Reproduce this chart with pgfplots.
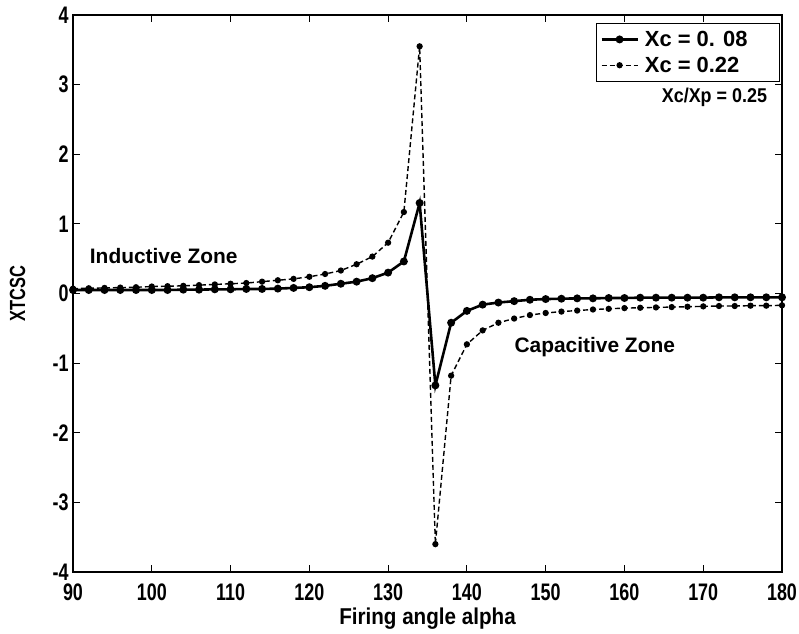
\documentclass[border=0pt]{standalone}
\usepackage{fontspec}
\setmainfont{Liberation Sans}
\newfontfamily\cond[FakeStretch=0.75]{Liberation Sans}
\newfontfamily\lab[FakeStretch=0.9]{Liberation Sans}
\usepackage{pgfplots}
\pgfplotsset{compat=1.18}
\usetikzlibrary{calc}

% Xc = 0.08
\pgfplotstableread{
a y
90 0.05
92 0.05
94 0.05
96 0.05
98 0.05
100 0.05
102 0.05
104 0.055
106 0.055
108 0.06
110 0.06
112 0.065
114 0.065
116 0.07
118 0.08
120 0.09
122 0.11
124 0.14
126 0.17
128 0.22
130 0.30
132 0.46
134 1.30
136 -1.32
138 -0.42
140 -0.25
142 -0.16
144 -0.13
146 -0.11
148 -0.09
150 -0.08
152 -0.075
154 -0.07
156 -0.07
158 -0.065
160 -0.065
162 -0.06
164 -0.06
166 -0.06
168 -0.06
170 -0.06
172 -0.055
174 -0.055
176 -0.055
178 -0.055
180 -0.055
}\xcA

% Xc = 0.22
\pgfplotstableread{
a y
90 0.07
92 0.075
94 0.08
96 0.085
98 0.09
100 0.10
102 0.105
104 0.11
106 0.12
108 0.13
110 0.14
112 0.15
114 0.17
116 0.19
118 0.21
120 0.24
122 0.28
124 0.33
126 0.42
128 0.53
130 0.73
132 1.17
134 3.55
136 -3.60
138 -1.18
140 -0.73
142 -0.53
144 -0.42
146 -0.36
148 -0.31
150 -0.28
152 -0.26
154 -0.245
156 -0.23
158 -0.22
160 -0.21
162 -0.205
164 -0.20
166 -0.195
168 -0.19
170 -0.185
172 -0.18
174 -0.18
176 -0.175
178 -0.175
180 -0.17
}\xcB

\begin{document}
\begin{tikzpicture}[x=1bp,y=1bp]
\begin{axis}[
    name=ax,
    scale only axis,
    width=709bp, height=557bp,
    xmin=90, xmax=180, ymin=-4, ymax=4,
    xtick={90,100,...,180},
    ytick={-4,-3,...,4},
    tick align=inside,
    major tick length=7bp,
    axis line style={line width=1.3bp},
    every tick/.style={line width=1.1bp, black},
    tick label style={font=\cond\bfseries\fontsize{24}{24}\selectfont},
    /pgf/number format/assume math mode=true,
    xticklabel style={yshift=-8bp},
    yticklabel style={xshift=-1bp},
    xlabel={\lab\bfseries\fontsize{23}{23}\selectfont Firing angle alpha},
    ylabel={\cond\bfseries\fontsize{22}{22}\selectfont XTCSC},
    xlabel style={at={(axis description cs:0.5,-0.083)}, anchor=center},
    ylabel style={at={(axis description cs:-0.078,0.5)}, anchor=center},
    clip=false,
    legend style={at={(1,1)}, anchor=north east, xshift=-2bp, yshift=-8bp,
        draw=black, line width=1.1bp, inner xsep=4bp, inner ysep=3bp,
        font=\bfseries\fontsize{22}{24}\selectfont,
        nodes={inner ysep=4.5bp, inner xsep=6bp},
        legend cell align=left, row sep=0bp},
    legend image code/.code={
        \draw[#1] (0bp,0bp) -- (36bp,0bp);
        \draw[#1, solid] plot coordinates {(18bp,0bp)};
    },
]
\addplot[black, line width=2.6bp, mark=*, mark size=2.6bp] table[x=a,y=y] {\xcA};
\addplot[black, line width=1.4bp, dash pattern=on 5bp off 3bp, mark=*, mark size=2.4bp, mark options={solid}] table[x=a,y=y] {\xcB};
\legend{Xc = 0. 08\rule{22bp}{0pt}, Xc = 0.22}
\node[anchor=west, font=\lab\bfseries\fontsize{20}{22}\selectfont] at (axis cs:164.3,2.82) {Xc/Xp = 0.25};
\node[anchor=west, font=\bfseries\fontsize{21}{22}\selectfont] at (axis cs:91.7,0.54) {Inductive Zone};
\node[anchor=west, font=\bfseries\fontsize{21}{22}\selectfont] at (axis cs:145.6,-0.77) {Capacitive Zone};
\end{axis}
\pgfresetboundingbox
\useasboundingbox ($(ax.south west)+(-73bp,-62bp)$) rectangle ($(ax.north east)+(17bp,15bp)$);
\end{tikzpicture}
\end{document}
